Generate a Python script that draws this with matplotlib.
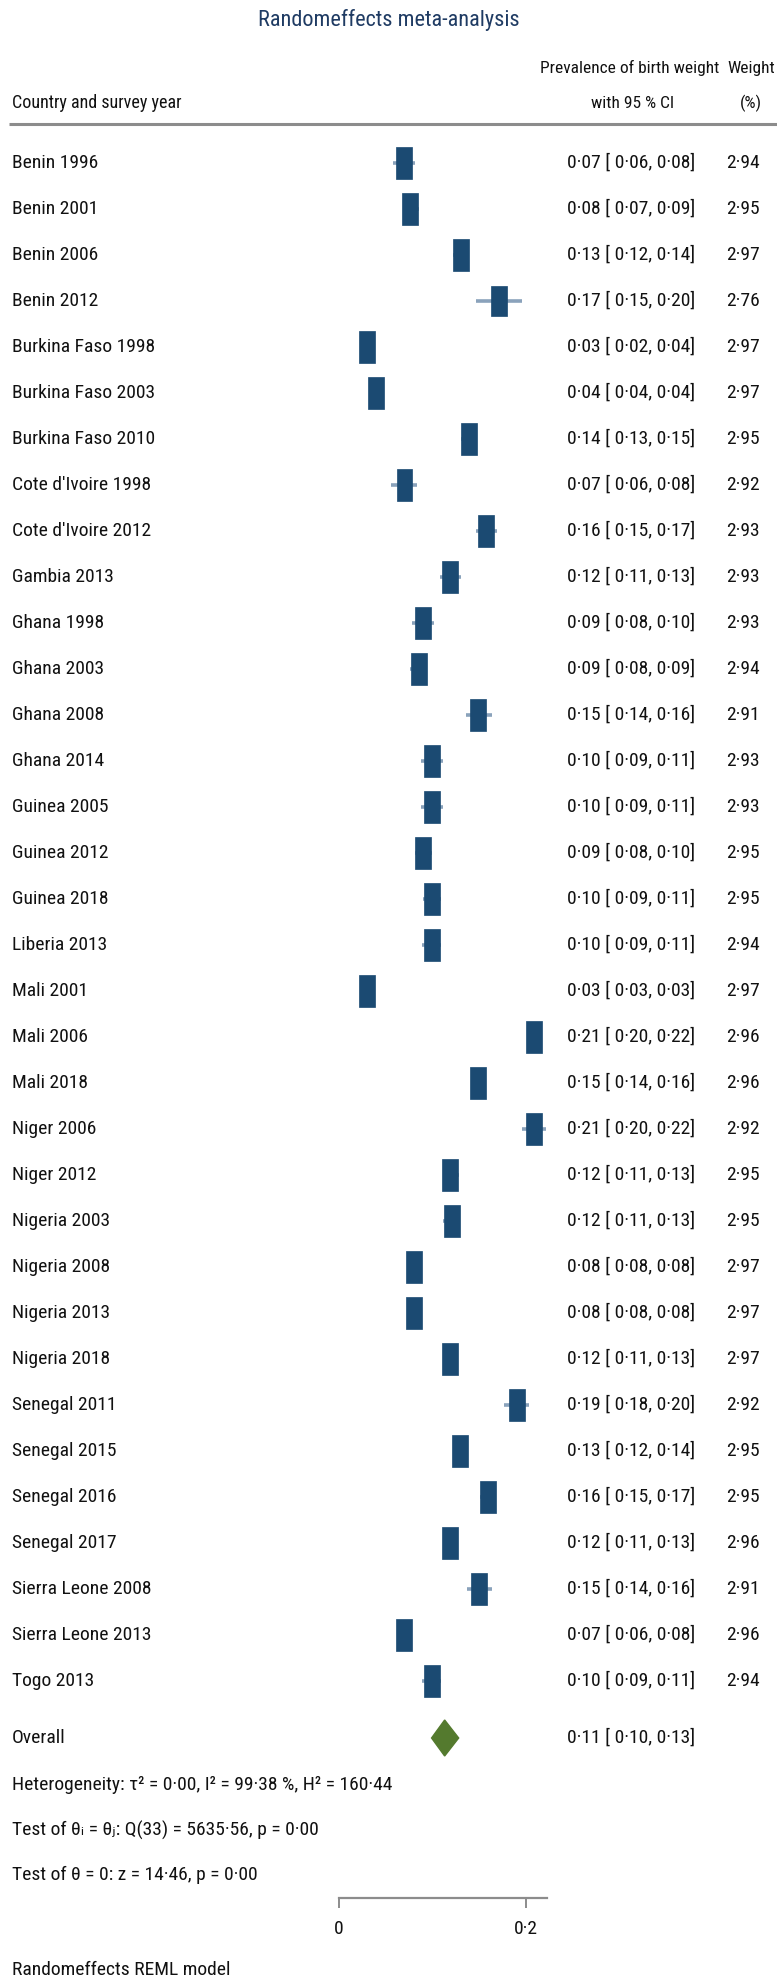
import numpy as np
import matplotlib
matplotlib.use('Agg')
from matplotlib import pyplot as plt
from matplotlib import font_manager
from matplotlib import transforms as mtransforms
from matplotlib.patches import Rectangle

studies = ['Benin 1996', 'Benin 2001', 'Benin 2006', 'Benin 2012',
           'Burkina Faso 1998', 'Burkina Faso 2003', 'Burkina Faso 2010',
           "Cote d'Ivoire 1998", "Cote d'Ivoire 2012", 'Gambia 2013',
           'Ghana 1998', 'Ghana 2003', 'Ghana 2008', 'Ghana 2014',
           'Guinea 2005', 'Guinea 2012', 'Guinea 2018', 'Liberia 2013',
           'Mali 2001', 'Mali 2006', 'Mali 2018', 'Niger 2006', 'Niger 2012',
           'Nigeria 2003', 'Nigeria 2008', 'Nigeria 2013', 'Nigeria 2018',
           'Senegal 2011', 'Senegal 2015', 'Senegal 2016', 'Senegal 2017',
           'Sierra Leone 2008', 'Sierra Leone 2013', 'Togo 2013']
es = [0.070, 0.076, 0.130, 0.171, 0.030, 0.040, 0.139, 0.070, 0.157, 0.119,
      0.090, 0.086, 0.149, 0.099, 0.099, 0.090, 0.099, 0.099, 0.030, 0.209,
      0.149, 0.209, 0.119, 0.121, 0.080, 0.080, 0.119, 0.190, 0.129, 0.159,
      0.119, 0.150, 0.070, 0.099]
lo = [0.058, 0.068, 0.122, 0.146, 0.024, 0.036, 0.131, 0.056, 0.146, 0.108,
      0.078, 0.076, 0.136, 0.088, 0.088, 0.081, 0.090, 0.089, 0.027, 0.202,
      0.142, 0.196, 0.111, 0.111, 0.077, 0.077, 0.113, 0.177, 0.123, 0.151,
      0.112, 0.137, 0.063, 0.089]
hi = [0.081, 0.086, 0.137, 0.196, 0.036, 0.044, 0.147, 0.083, 0.169, 0.131,
      0.102, 0.094, 0.164, 0.111, 0.111, 0.099, 0.109, 0.109, 0.033, 0.216,
      0.156, 0.221, 0.128, 0.129, 0.083, 0.083, 0.126, 0.203, 0.136, 0.168,
      0.126, 0.164, 0.077, 0.109]
weights = [2.94, 2.95, 2.97, 2.76, 2.97, 2.97, 2.95, 2.92, 2.93, 2.93,
           2.93, 2.94, 2.91, 2.93, 2.93, 2.95, 2.95, 2.94, 2.97, 2.96,
           2.96, 2.92, 2.95, 2.95, 2.97, 2.97, 2.97, 2.92, 2.95, 2.95,
           2.96, 2.91, 2.96, 2.94]
overall = (0.113, 0.099, 0.128)
tau2, i2, h2 = 0.00, 99.38, 160.44
q_df, q_stat, q_p = 33, 5635.56, 0.00
z_stat, z_p = 14.46, 0.00
xticks = [0, 0.2]
xticklabels = ['0', '0\u00b72']

W, H = 777, 1988
names = {f.name for f in font_manager.fontManager.ttflist}
base = 'Liberation Sans'
for cand in ['Liberation Sans Narrow', 'Roboto Condensed', 'Liberation Sans']:
    if cand in names:
        base = cand
        break
plt.rcParams['font.family'] = [base, 'DejaVu Sans']

def fmt(v):
    return '{:.2f}'.format(v).replace('.', '\u00b7')

# pixel geometry (x: 0 at 339px, 935px per unit; rows 46px apart from 163px)
x0, xs = 339, 935
y0, ys = 163, 46

fig = plt.figure(figsize=(W / 100, H / 100), dpi=100)
ax = fig.add_axes([0, 0, 1, 1])
ax.set_xlim(-x0 / xs, (W - x0) / xs)
ax.set_ylim((H - y0) / ys, -y0 / ys)
pix = mtransforms.Affine2D().scale(1 / W, -1 / H).translate(0, 1) + fig.transFigure

navy = '#1b4a72'
ci_col = '#8aa2bb'
txt = '#111111'
fs = 14
hfs = 12.5

rows = np.arange(len(studies))
ax.hlines(rows, lo, hi, color=ci_col, lw=2.6, zorder=2)
wmax = max(weights)
for r, e, w in zip(rows, es, weights):
    k = np.sqrt(w / wmax)
    bw, bh = 16 / xs * k, 32 / ys * k
    ax.add_patch(Rectangle((e - bw / 2, r - bh / 2), bw, bh, facecolor=navy,
                           edgecolor=navy, lw=0.5, zorder=3))
    ax.text(12, y0 + ys * r, studies[r], transform=pix, ha='left', va='center',
            fontsize=fs, color=txt)
    ax.text(631, y0 + ys * r, '{} [ {}, {}]'.format(fmt(e), fmt(lo[r]), fmt(hi[r])),
            transform=pix, ha='center', va='center', fontsize=fs, color=txt)
    ax.text(760, y0 + ys * r, fmt(w), transform=pix, ha='right', va='center',
            fontsize=fs, color=txt)

# overall diamond
oy = (1738 - y0) / ys
dh = 18 / ys
ax.fill([overall[1], overall[0], overall[2], overall[0]],
        [oy, oy - dh, oy, oy + dh], color='#547a2e', zorder=3)
ax.text(12, 1738, 'Overall', transform=pix, ha='left', va='center', fontsize=fs, color=txt)
ax.text(631, 1738, '{} [ {}, {}]'.format(*[fmt(v) for v in overall]), transform=pix,
        ha='center', va='center', fontsize=fs, color=txt)

ax.text(12, 1785, 'Heterogeneity: \u03c4\u00b2 = {}, I\u00b2 = {} %, H\u00b2 = {}'.format(
    fmt(tau2), fmt(i2), fmt(h2)), transform=pix, ha='left', va='center', fontsize=fs, color=txt)
ax.text(12, 1830, 'Test of \u03b8\u1d62 = \u03b8\u2c7c: Q({}) = {}, p = {}'.format(
    q_df, fmt(q_stat), fmt(q_p)), transform=pix, ha='left', va='center', fontsize=fs, color=txt)
ax.text(12, 1875, 'Test of \u03b8 = 0: z = {}, p = {}'.format(fmt(z_stat), fmt(z_p)),
        transform=pix, ha='left', va='center', fontsize=fs, color=txt)
ax.text(12, 1970, 'Randomeffects REML model', transform=pix, ha='left', va='center',
        fontsize=fs, color=txt)

# headers
ax.text(W / 2, 20, 'Randomeffects meta-analysis', transform=pix, ha='center', va='center',
        fontsize=16, color='#1f3b63')
ax.text(630, 68, 'Prevalence of birth weight', transform=pix, ha='center', va='center',
        fontsize=hfs, color=txt)
ax.text(751, 68, 'Weight', transform=pix, ha='center', va='center', fontsize=hfs, color=txt)
ax.text(12, 103, 'Country and survey year', transform=pix, ha='left', va='center',
        fontsize=hfs + 0.5, color=txt)
ax.text(633, 103, 'with 95 % CI', transform=pix, ha='center', va='center', fontsize=hfs, color=txt)
ax.text(751, 103, '(%)', transform=pix, ha='center', va='center', fontsize=hfs, color=txt)
ax.plot([9, W], [124, 124], transform=pix, color='#8c8c8c', lw=2.2, solid_capstyle='butt')

# x axis
for s in ['top', 'left', 'right']:
    ax.spines[s].set_visible(False)
ax.spines['bottom'].set_position(('data', (1898 - y0) / ys))
ax.spines['bottom'].set_bounds(0, 0.222)
ax.spines['bottom'].set_color('#8c8c8c')
ax.spines['bottom'].set_linewidth(1.6)
ax.set_yticks([])
ax.set_xticks(xticks)
ax.set_xticklabels(xticklabels)
ax.tick_params(axis='x', direction='out', length=7.5, width=1.4, color='#8c8c8c',
               labelsize=fs, labelcolor=txt, pad=8)
ax.patch.set_visible(False)

fig.savefig('out.png', dpi=100)
